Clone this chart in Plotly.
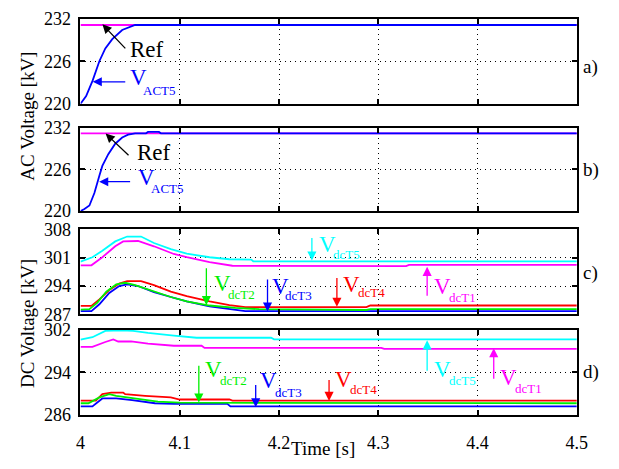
import plotly.graph_objects as go

# ---------------- data ----------------
# panel a
t_ref = [4.0, 4.5]
ref_a = [231.1, 231.1]
t_act_a = [4.0, 4.0057, 4.0123, 4.019, 4.025, 4.032, 4.042, 4.05, 4.055, 4.5]
v_act_a = [220.0, 221.1, 223.3, 226.0, 227.8, 229.1, 230.4, 230.9, 231.1, 231.1]
# panel b
ref_b = [231.2, 231.2]
t_act_b = [4.0, 4.004, 4.009, 4.014, 4.019, 4.022, 4.028, 4.035, 4.042, 4.048, 4.055,
           4.066, 4.068, 4.079, 4.081, 4.5]
v_act_b = [220.0, 220.3, 220.8, 222.6, 225.1, 226.5, 228.2, 229.7, 230.6, 231.0, 231.2,
           231.2, 231.4, 231.4, 231.2, 231.2]
# panel c
t_c_T5 = [4.0, 4.012, 4.022, 4.035, 4.047, 4.061, 4.074, 4.091, 4.107, 4.130, 4.150, 4.172, 4.174, 4.5]
v_c_T5 = [300.0, 301.1, 302.7, 305.0, 306.2, 306.2, 304.6, 303.1, 302.0, 301.1, 300.6, 300.5, 300.1, 300.1]
t_c_T1 = [4.0, 4.011, 4.022, 4.035, 4.043, 4.058, 4.074, 4.094, 4.107, 4.130, 4.153, 4.328, 4.331, 4.5]
v_c_T1 = [299.1, 299.1, 301.1, 303.8, 305.0, 305.1, 303.8, 301.9, 301.1, 299.9, 299.0, 298.9, 299.2, 299.2]
t_c_T4 = [4.0, 4.011, 4.019, 4.029, 4.039, 4.047, 4.061, 4.074, 4.091, 4.107, 4.130, 4.150, 4.166,
          4.288, 4.292, 4.5]
v_c_T4 = [289.1, 289.1, 290.7, 293.0, 294.6, 295.2, 295.2, 294.2, 292.6, 291.5, 290.2, 289.3, 288.8,
          288.8, 289.2, 289.2]
t_c_T3 = [4.0, 4.011, 4.019, 4.029, 4.039, 4.047, 4.058, 4.074, 4.091, 4.107, 4.130, 4.156, 4.166, 4.5]
v_c_T3 = [287.8, 287.8, 289.5, 292.3, 294.0, 294.4, 294.0, 292.5, 291.3, 290.2, 289.0, 288.2, 287.8, 287.8]
t_c_T2 = [4.0, 4.009, 4.017, 4.026, 4.036, 4.045, 4.055, 4.074, 4.091, 4.107, 4.130, 4.156, 4.180,
          4.288, 4.292, 4.5]
v_c_T2 = [288.2, 288.3, 289.9, 292.6, 294.4, 294.8, 294.2, 292.6, 291.3, 290.2, 289.2, 288.6, 288.3,
          288.1, 288.3, 288.3]
# panel d
t_d_T5 = [4.0, 4.012, 4.025, 4.041, 4.053, 4.068, 4.094, 4.117, 4.192, 4.195, 4.5]
v_d_T5 = [300.15, 300.6, 301.8, 301.9, 301.8, 301.4, 300.9, 300.5, 300.5, 300.2, 300.2]
t_d_T1 = [4.0, 4.012, 4.025, 4.033, 4.038, 4.051, 4.068, 4.094, 4.122, 4.125, 4.303, 4.306, 4.5]
v_d_T1 = [298.8, 298.8, 299.7, 300.2, 299.8, 299.8, 299.4, 299.0, 299.0, 298.6, 298.6, 298.4, 298.4]
t_d_T4 = [4.0, 4.0155, 4.022, 4.031, 4.043, 4.045, 4.065, 4.078, 4.091, 4.1, 4.150, 4.153, 4.5]
v_d_T4 = [288.7, 288.7, 289.9, 290.2, 290.2, 289.9, 289.6, 289.4, 289.3, 288.9, 288.9, 288.7, 288.7]
t_d_T2 = [4.0, 4.008, 4.019, 4.029, 4.036, 4.058, 4.078, 4.1, 4.5]
v_d_T2 = [288.2, 288.2, 289.3, 289.9, 289.6, 289.0, 288.5, 288.3, 288.2]
t_d_T3 = [4.0, 4.012, 4.022, 4.036, 4.052, 4.075, 4.094, 4.148, 4.151, 4.5]
v_d_T3 = [287.6, 287.6, 289.1, 289.1, 288.8, 288.2, 288.1, 288.1, 287.6, 287.6]

x_ticks = [4.0, 4.1, 4.2, 4.3, 4.4, 4.5]
x_ticktext = ["4", "4.1", "4.2", "4.3", "4.4", "4.5"]
ac_ticks = [220, 226, 232]
c_ticks = [287, 294, 301, 308]
d_ticks = [286, 294, 302]

BLUE, MAG, CYAN, RED, GREEN = "#0000FF", "#FF00FF", "#00FFFF", "#FF0000", "#00F000"
FONT = "Liberation Serif"

fig = go.Figure()

def line(x, y, color, ax_idx):
    sfx = "" if ax_idx == 1 else str(ax_idx)
    fig.add_trace(go.Scatter(x=x, y=y, mode="lines", line=dict(color=color, width=1.8),
                             xaxis="x" + sfx, yaxis="y" + sfx, showlegend=False,
                             hoverinfo="skip"))

line(t_ref, ref_a, MAG, 1)
line(t_act_a, v_act_a, BLUE, 1)
line(t_ref, ref_b, MAG, 2)
line(t_act_b, v_act_b, BLUE, 2)
line(t_c_T5, v_c_T5, CYAN, 3)
line(t_c_T1, v_c_T1, MAG, 3)
line(t_c_T4, v_c_T4, RED, 3)
line(t_c_T3, v_c_T3, BLUE, 3)
line(t_c_T2, v_c_T2, GREEN, 3)
line(t_d_T5, v_d_T5, CYAN, 4)
line(t_d_T1, v_d_T1, MAG, 4)
line(t_d_T4, v_d_T4, RED, 4)
line(t_d_T3, v_d_T3, BLUE, 4)
line(t_d_T2, v_d_T2, GREEN, 4)

W, H = 619, 469
xdom = [77.5 / W, 587 / W]
panels_px = [(9, 98), (123, 210), (229, 318), (334, 423)]
yranges = [[220, 232], [220, 232], [287, 308], [286, 302]]
yticks = [ac_ticks, ac_ticks, c_ticks, d_ticks]

common = dict(showline=True, linecolor="black", linewidth=2, mirror="ticks",
              ticks="inside", ticklen=5, tickwidth=1.5, tickcolor="black",
              showgrid=True, gridcolor="black", gridwidth=1, griddash="1px,4px",
              zeroline=False, tickfont=dict(family=FONT, size=18, color="black"))

layout = {}
for i, ((top, bot), yr, yt) in enumerate(zip(panels_px, yranges, yticks), start=1):
    sfx = "" if i == 1 else str(i)
    layout["xaxis" + sfx] = dict(common, domain=xdom, range=[4.0, 4.5], tickvals=x_ticks,
                                 ticktext=x_ticktext, anchor="y" + sfx,
                                 showticklabels=(i == 4), ticklabelstandoff=10)
    layout["yaxis" + sfx] = dict(common, domain=[1 - bot / H, 1 - top / H], range=yr,
                                 tickvals=yt, anchor="x" + sfx, ticklabelstandoff=4)

fig.update_layout(**layout)

ann = []

def arrow(xh, yh, xt, yt, color, i):
    sfx = "" if i == 1 else str(i)
    ann.append(dict(x=xh, y=yh, ax=xt, ay=yt, xref="x" + sfx, yref="y" + sfx,
                    axref="x" + sfx, ayref="y" + sfx, text="", showarrow=True,
                    arrowhead=2, arrowsize=1.4, arrowwidth=1.3, arrowcolor=color))

def label(x, y, txt, color, i, size):
    sfx = "" if i == 1 else str(i)
    ann.append(dict(x=x, y=y, xref="x" + sfx, yref="y" + sfx, text=txt, showarrow=False,
                    xanchor="left", yanchor="middle",
                    font=dict(family=FONT, size=size, color=color)))

def vlabel(xv, yv, xs, ys, sub, color, i):
    label(xv, yv, "V", color, i, 23)
    label(xs, ys, sub, color, i, 13)

# panel a
arrow(4.0221, 231.19, 4.0466, 227.59, "black", 1)
label(4.0476, 227.59, "Ref", "black", 1, 23)
arrow(4.0123, 223.10, 4.0466, 223.10, BLUE, 1)
vlabel(4.0476, 223.71, 4.0613, 221.89, "ACT5", BLUE, 1)
# panel b
arrow(4.0253, 231.17, 4.0499, 227.82, "black", 2)
label(4.0548, 228.41, "Ref", "black", 2, 23)
arrow(4.0188, 224.23, 4.0515, 224.23, BLUE, 2)
vlabel(4.0564, 224.87, 4.0695, 223.21, "ACT5", BLUE, 2)
# panel c
arrow(4.2331, 300.28, 4.2331, 306.18, CYAN, 3)
vlabel(4.2380, 304.22, 4.2527, 301.87, "dcT5", CYAN, 3)
arrow(4.1268, 289.29, 4.1268, 298.73, GREEN, 3)
vlabel(4.1323, 294.6, 4.1464, 291.96, "dcT2", GREEN, 3)
arrow(4.1884, 287.7, 4.1884, 295.97, BLUE, 3)
vlabel(4.1906, 293.8, 4.2036, 291.65, "dcT3", BLUE, 3)
arrow(4.2583, 288.89, 4.2583, 296.37, RED, 3)
vlabel(4.2625, 294.39, 4.2772, 292.43, "dcT4", RED, 3)
arrow(4.3492, 298.73, 4.3492, 291.25, MAG, 3)
vlabel(4.3541, 293.84, 4.3688, 291.25, "dcT1", MAG, 3)
# panel d
arrow(4.1192, 288.34, 4.1192, 295.53, GREEN, 4)
vlabel(4.1235, 294.49, 4.1382, 292.53, "dcT2", GREEN, 4)
arrow(4.1765, 287.44, 4.1765, 291.93, BLUE, 4)
vlabel(4.1791, 292.38, 4.1938, 290.31, "dcT3", BLUE, 4)
arrow(4.2504, 288.64, 4.2504, 292.83, RED, 4)
vlabel(4.2544, 292.69, 4.2691, 290.85, "dcT4", RED, 4)
arrow(4.3492, 300.02, 4.3492, 294.04, CYAN, 4)
vlabel(4.3541, 294.49, 4.3688, 292.53, "dcT5", CYAN, 4)
arrow(4.4163, 298.53, 4.4163, 292.53, MAG, 4)
vlabel(4.4202, 292.98, 4.4359, 291.03, "dcT1", MAG, 4)

# axis titles and panel tags
def paper_text(xc, yc, txt, angle=0, xanchor="center"):
    ann.append(dict(x=xc / W, y=1 - yc / H, xref="paper", yref="paper", text=txt,
                    textangle=angle, showarrow=False, xanchor=xanchor, yanchor="middle",
                    font=dict(family=FONT, size=19, color="black")))

paper_text(23, 111, "AC Voltage [kV]", -90)
paper_text(23, 327.5, "DC Voltage [kV]", -90)
paper_text(326, 458, "Time [s]")
for tag, yc in zip(["a)", "b)", "c)", "d)"], [60, 167, 275, 378]):
    paper_text(591, yc, tag, 0, "left")

fig.update_layout(annotations=ann, width=W, height=H,
                  margin=dict(l=0, r=0, t=0, b=0),
                  plot_bgcolor="white", paper_bgcolor="white",
                  font=dict(family=FONT, size=18, color="black"))

fig.write_html("out.html")
